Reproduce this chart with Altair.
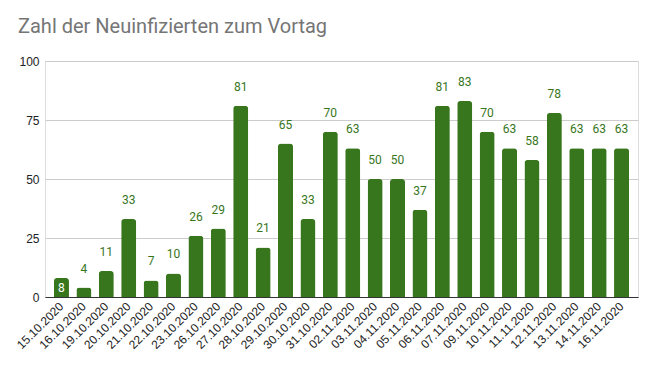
import altair as alt
import pandas as pd

dates = ["15.10.2020", "16.10.2020", "19.10.2020", "20.10.2020", "21.10.2020",
         "22.10.2020", "23.10.2020", "26.10.2020", "27.10.2020", "28.10.2020",
         "29.10.2020", "30.10.2020", "31.10.2020", "02.11.2020", "03.11.2020",
         "04.11.2020", "05.11.2020", "06.11.2020", "07.11.2020", "09.11.2020",
         "10.11.2020", "11.11.2020", "12.11.2020", "13.11.2020", "14.11.2020",
         "16.11.2020"]
values = [8, 4, 11, 33, 7, 10, 26, 29, 81, 21, 65, 33, 70, 63, 50, 50, 37,
          81, 83, 70, 63, 58, 78, 63, 63, 63]
y_ticks = [0, 25, 50, 75, 100]

df = pd.DataFrame({"date": dates, "value": values})

GREEN = "#38761d"
FONT = "Roboto"
AXFONT = "Liberation Sans"

x = alt.X("date:N", sort=dates, title=None,
          scale=alt.Scale(paddingInner=0.33, paddingOuter=0.4),
          axis=alt.Axis(labelAngle=-45, labelAlign="right", labelBaseline="middle",
                        labelFontSize=12, labelFont=AXFONT, labelColor="#222222",
                        ticks=False, domainColor="#333333", labelPadding=7,
                        labelOverlap=False))
y = alt.Y("value:Q", title=None,
          scale=alt.Scale(domain=[0, 100], nice=False),
          axis=alt.Axis(values=y_ticks, labelFontSize=12, labelFont=AXFONT,
                        labelColor="#222222", ticks=False, domain=False,
                        gridColor="#cccccc", labelPadding=6))

base = alt.Chart(df)

bars = base.mark_bar(color=GREEN, cornerRadiusTopLeft=3, cornerRadiusTopRight=3).encode(x=x, y=y)

labels_above = base.transform_filter(alt.datum.date != "15.10.2020").mark_text(
    color=GREEN, font=FONT, fontSize=12, baseline="middle", dy=-19
).encode(x=alt.X("date:N", sort=dates), y=alt.Y("value:Q"), text="value:Q")

label_inside = base.transform_filter(alt.datum.date == "15.10.2020").transform_calculate(
    mid="datum.value / 2"
).mark_text(
    color="white", font=FONT, fontSize=12, baseline="middle"
).encode(x=alt.X("date:N", sort=dates), y=alt.Y("mid:Q"), text="value:Q")

chart = alt.layer(bars, labels_above, label_inside).properties(
    width=593, height=236,
    title=alt.TitleParams("Zahl der Neuinfizierten zum Vortag", anchor="start",
                          frame="group",
                          font=FONT, fontSize=20, fontWeight="normal",
                          color="#757575", dx=-27, offset=18),
    autosize=alt.AutoSizeParams(type="none"),
    padding={"left": 37, "top": 53, "right": 11, "bottom": 66},
).configure_view(stroke=None).configure(background="white")

chart.save("out.html", embed_options={"renderer": "svg", "actions": False})
